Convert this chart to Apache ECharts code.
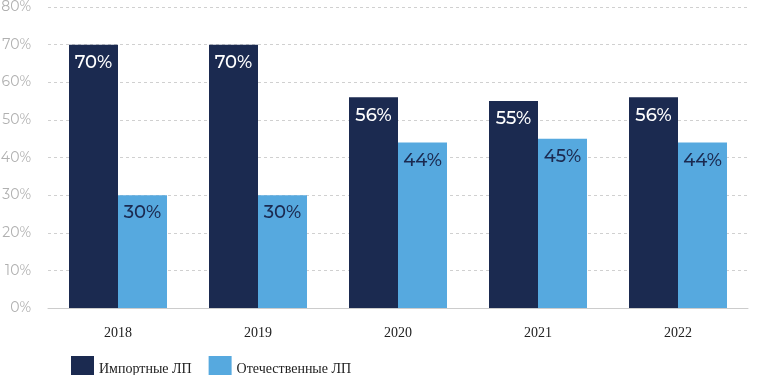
<!DOCTYPE html>
<html>
<head>
<meta charset="utf-8">
<script src="https://cdn.jsdelivr.net/npm/echarts@6/dist/echarts.min.js"></script>
<style>
html, body { margin: 0; padding: 0; background: #fff; }
#chart { width: 758px; height: 375px; }
</style>
</head>
<body>
<div id="chart"></div>
<script>
// годы
var years = ['2018', '2019', '2020', '2021', '2022'];
// доля, %
var importData = [70, 70, 56, 55, 56];
var domesticData = [30, 30, 44, 45, 44];
var seriesNames = ['Импортные ЛП', 'Отечественные ЛП'];

var chartObj = echarts.init(document.getElementById('chart'));

var labelFont = 'Montserrat, Inter, "Noto Sans", sans-serif';
var serifFont = '"Liberation Serif", serif';

var option = {
	animation: false,
	grid: {
		left: 48,
		right: 10,
		top: 7,
		bottom: 67,
		outerBoundsMode: 'none'
	},
	legend: {
		left: 66,
		top: 351,
		itemWidth: 23,
		itemHeight: 26,
		itemGap: 17,
		icon: 'rect',
		textStyle: {
			fontFamily: serifFont,
			fontSize: 14,
			color: '#222'
		},
		data: seriesNames
	},
	xAxis: {
		type: 'category',
		data: years,
		axisLine: { show: true, lineStyle: { color: '#ccc' } },
		axisTick: { show: false },
		axisLabel: {
			margin: 18,
			fontFamily: serifFont,
			fontSize: 14,
			color: '#222'
		}
	},
	yAxis: {
		type: 'value',
		min: 0,
		max: 80,
		interval: 10,
		axisLine: { show: false },
		axisLabel: {
			formatter: '{value}%',
			margin: 17,
			fontFamily: labelFont,
			fontSize: 14,
			color: '#b0b0b0'
		},
		splitLine: {
			lineStyle: { type: [3, 3], color: '#d0d0d0' }
		}
	},
	series: [
		{
			name: seriesNames[0],
			type: 'bar',
			data: importData,
			barGap: '0%',
			barCategoryGap: '30%',
			itemStyle: { color: '#1b2a50' },
			label: {
				show: true,
				position: 'insideTop',
				distance: 9,
				formatter: '{c}%',
				fontFamily: labelFont,
				fontSize: 18,
				fontWeight: 500,
				color: '#fff'
			}
		},
		{
			name: seriesNames[1],
			type: 'bar',
			data: domesticData,
			itemStyle: { color: '#56a9df' },
			label: {
				show: true,
				position: 'insideTop',
				distance: 9,
				formatter: '{c}%',
				fontFamily: labelFont,
				fontSize: 18,
				fontWeight: 500,
				color: '#1b2a50'
			}
		}
	]
};

chartObj.setOption(option);
</script>
</body>
</html>
